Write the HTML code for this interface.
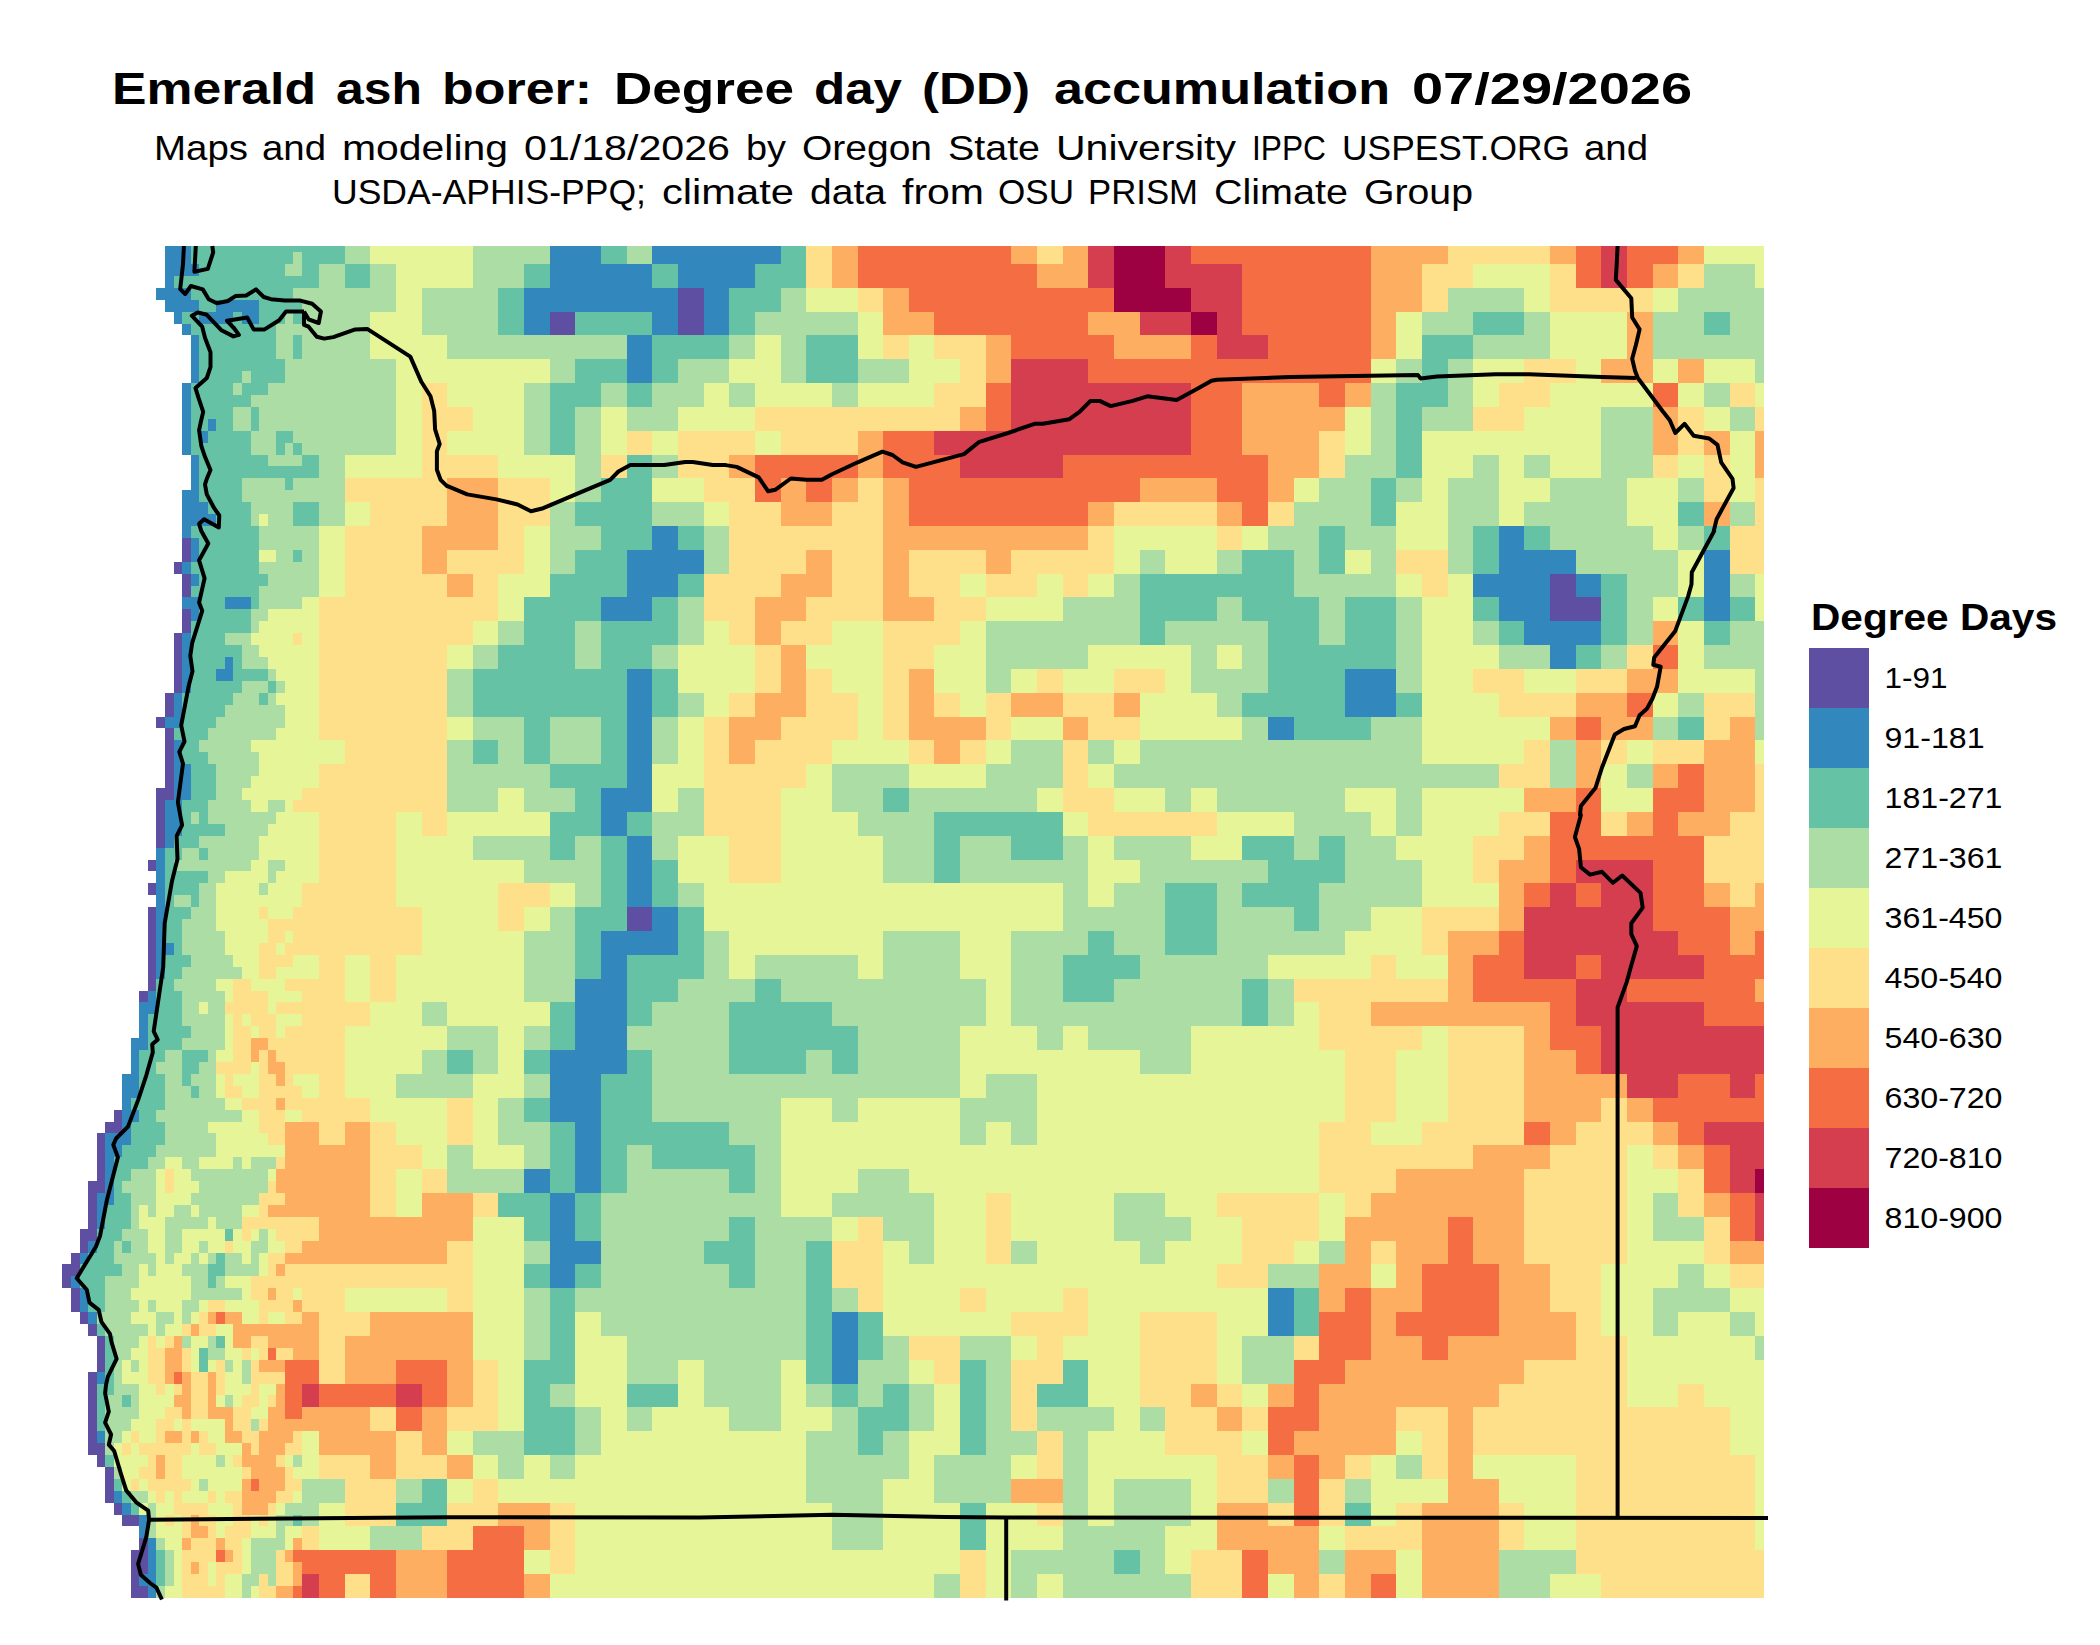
<!DOCTYPE html>
<html><head><meta charset="utf-8"><title>Emerald ash borer DD map</title>
<style>
html,body{margin:0;padding:0;background:#fff;}
body{width:2100px;height:1645px;overflow:hidden;font-family:"Liberation Sans",sans-serif;}
svg{display:block;position:absolute;left:0;top:0;}
text{font-family:"Liberation Sans",sans-serif;fill:#000;}
.b{font-weight:bold;}
</style></head><body>
<svg width="2100" height="1645" viewBox="0 0 2100 1645" xmlns="http://www.w3.org/2000/svg">
<rect width="2100" height="1645" fill="#fff"/>
<g shape-rendering="crispEdges">
<path fill="#3288BD" d="M165 246h26v18h-26zM550 246h51v18h-51zM550 1074h51v48h-51zM550 1241h51v23h-51zM652 246h129v18h-129zM165 264h34v12h-34zM165 300h34v12h-34zM550 264h102v24h-102zM678 264h77v24h-77zM165 276h9v12h-9zM165 836h9v12h-9zM156 288h35v12h-35zM524 288h154v24h-154zM704 288h25v47h-25zM216 300h43v12h-43zM174 312h8v12h-8zM174 693h8v24h-8zM174 740h8v24h-8zM199 312h34v12h-34zM242 312h17v12h-17zM524 312h26v23h-26zM524 1169h26v24h-26zM652 312h26v23h-26zM652 526h26v24h-26zM652 907h26v24h-26zM182 324h9v11h-9zM182 383h9v72h-9zM182 526h9v12h-9zM182 562h9v12h-9zM182 633h9v60h-9zM191 335h8v48h-8zM191 455h8v35h-8zM191 538h8v24h-8zM191 574h8v12h-8zM191 609h8v12h-8zM627 335h25v48h-25zM627 669h25v119h-25zM627 836h25v71h-25zM208 419h8v12h-8zM199 431h9v12h-9zM182 490h17v12h-17zM182 597h17v12h-17zM182 502h26v12h-26zM182 514h34v12h-34zM1499 526h25v24h-25zM627 550h77v24h-77zM1499 550h77v24h-77zM1704 550h26v71h-26zM627 574h51v23h-51zM1473 574h77v23h-77zM1576 574h25v23h-25zM225 597h26v12h-26zM601 597h51v24h-51zM601 788h51v24h-51zM1499 597h51v24h-51zM1524 621h77v24h-77zM1550 645h26v24h-26zM225 657h8v12h-8zM216 669h17v12h-17zM1345 669h51v48h-51zM165 717h17v11h-17zM165 800h17v36h-17zM1268 717h26v23h-26zM1268 1288h26v48h-26zM174 764h17v36h-17zM601 812h26v24h-26zM601 955h26v24h-26zM156 848h9v95h-9zM156 955h9v24h-9zM601 931h77v24h-77zM156 943h18v12h-18zM575 979h52v71h-52zM148 991h8v11h-8zM148 1538h8v36h-8zM148 1586h8v12h-8zM139 1002h17v12h-17zM139 1574h17v12h-17zM139 1014h9v24h-9zM139 1515h9v23h-9zM131 1038h17v12h-17zM131 1050h8v24h-8zM550 1050h77v24h-77zM122 1074h17v24h-17zM122 1110h17v12h-17zM122 1098h9v12h-9zM122 1122h9v11h-9zM122 1503h9v12h-9zM575 1122h26v71h-26zM105 1133h26v12h-26zM105 1145h17v12h-17zM105 1157h9v36h-9zM97 1193h17v12h-17zM550 1193h25v48h-25zM550 1264h25v24h-25zM97 1205h8v24h-8zM97 1372h8v12h-8zM97 1431h8v12h-8zM88 1241h9v12h-9zM88 1312h9v12h-9zM80 1253h8v11h-8zM80 1288h8v24h-8zM71 1276h9v12h-9zM832 1312h26v72h-26zM114 1491h8v12h-8z"/>
<path fill="#66C2A5" d="M191 246h154v6h-154zM601 246h26v18h-26zM601 717h26v47h-26zM601 836h26v71h-26zM601 1145h26v48h-26zM781 246h25v18h-25zM191 252h102v12h-102zM191 288h102v12h-102zM302 252h43v12h-43zM199 264h86v12h-86zM199 359h86v12h-86zM302 264h17v12h-17zM302 455h17v11h-17zM345 264h25v24h-25zM524 264h26v24h-26zM524 717h26v47h-26zM524 1050h26v24h-26zM524 1098h26v24h-26zM524 1217h26v24h-26zM524 1264h26v24h-26zM524 1384h26v23h-26zM652 264h26v24h-26zM652 359h26v24h-26zM652 597h26v24h-26zM652 669h26v48h-26zM652 860h26v47h-26zM755 264h51v24h-51zM174 276h145v12h-145zM498 288h26v47h-26zM729 288h52v24h-52zM199 300h17v12h-17zM259 300h43v12h-43zM182 312h17v12h-17zM182 740h17v12h-17zM182 1062h17v12h-17zM233 312h9v12h-9zM233 657h9v12h-9zM259 312h26v12h-26zM293 312h9v12h-9zM293 335h9v24h-9zM293 443h9v12h-9zM293 550h9v12h-9zM293 1515h9v11h-9zM575 312h77v23h-77zM575 502h77v24h-77zM729 312h26v23h-26zM729 1169h26v24h-26zM729 1217h26v24h-26zM729 1264h26v24h-26zM1473 312h51v23h-51zM1704 312h26v23h-26zM1704 526h26v24h-26zM1704 621h26v24h-26zM191 324h85v11h-85zM199 335h77v24h-77zM652 335h77v24h-77zM806 335h52v48h-52zM1422 335h51v24h-51zM575 359h52v24h-52zM575 550h52v24h-52zM575 907h52v24h-52zM1422 359h26v24h-26zM199 371h43v12h-43zM199 478h43v24h-43zM251 371h34v12h-34zM191 383h42v12h-42zM191 407h42v12h-42zM242 383h26v12h-26zM550 383h51v24h-51zM550 812h51v24h-51zM627 383h25v24h-25zM627 455h25v23h-25zM627 812h25v24h-25zM627 1002h25v24h-25zM627 1050h25v24h-25zM1396 383h52v24h-52zM191 395h60v12h-60zM191 443h60v12h-60zM191 621h60v12h-60zM251 407h8v24h-8zM251 597h8v12h-8zM550 407h25v48h-25zM550 836h25v24h-25zM550 1002h25v48h-25zM550 1122h25v71h-25zM550 1288h25v72h-25zM1396 407h26v71h-26zM1396 693h26v24h-26zM191 419h17v12h-17zM216 419h17v12h-17zM191 431h8v12h-8zM191 895h8v12h-8zM191 1086h8v12h-8zM208 431h43v12h-43zM208 502h43v12h-43zM276 431h17v12h-17zM276 443h9v12h-9zM199 455h69v11h-69zM199 574h69v12h-69zM199 466h120v12h-120zM285 478h8v12h-8zM601 478h51v24h-51zM601 526h51v24h-51zM601 645h51v24h-51zM601 1074h51v48h-51zM1371 478h25v48h-25zM293 502h26v24h-26zM1678 502h26v24h-26zM1678 597h26v24h-26zM1678 717h26v23h-26zM216 514h35v12h-35zM191 526h68v12h-68zM191 562h68v12h-68zM191 586h68v11h-68zM678 526h26v24h-26zM678 574h26v23h-26zM678 907h26v48h-26zM1319 526h26v48h-26zM1319 836h26v24h-26zM1473 526h26v48h-26zM1473 597h26v24h-26zM1524 526h26v24h-26zM199 538h60v24h-60zM1242 550h52v24h-52zM1242 836h52v24h-52zM550 574h77v23h-77zM550 764h77v24h-77zM1140 574h154v23h-154zM1601 574h26v71h-26zM199 597h26v12h-26zM524 597h77v24h-77zM1140 597h77v24h-77zM1242 597h77v24h-77zM1242 883h77v24h-77zM1345 597h51v48h-51zM1730 597h25v24h-25zM199 609h52v12h-52zM524 621h51v24h-51zM524 1360h51v24h-51zM524 1407h51v48h-51zM601 621h77v24h-77zM1140 621h25v24h-25zM1268 621h51v24h-51zM1499 621h25v24h-25zM191 633h34v12h-34zM191 657h34v12h-34zM191 645h51v12h-51zM191 681h51v12h-51zM498 645h77v24h-77zM1268 645h128v24h-128zM1576 645h25v24h-25zM191 669h25v12h-25zM191 764h25v36h-25zM233 669h35v12h-35zM473 669h154v48h-154zM1268 669h77v24h-77zM1268 860h77v23h-77zM268 681h8v12h-8zM182 693h51v12h-51zM259 693h9v12h-9zM1242 693h103v24h-103zM182 705h43v12h-43zM182 824h43v12h-43zM182 717h34v11h-34zM1294 717h77v23h-77zM174 728h34v12h-34zM473 740h25v24h-25zM182 752h26v12h-26zM182 800h26v12h-26zM182 1050h26v12h-26zM575 788h26v24h-26zM575 931h26v48h-26zM575 1193h26v48h-26zM575 1264h26v24h-26zM883 788h26v24h-26zM883 1384h26v23h-26zM182 812h9v12h-9zM182 1074h9v12h-9zM199 812h9v12h-9zM199 848h9v12h-9zM199 1348h9v24h-9zM934 812h129v24h-129zM174 836h25v12h-25zM934 836h26v47h-26zM1011 836h52v24h-52zM165 848h17v12h-17zM165 919h17v24h-17zM165 967h17v12h-17zM165 860h9v11h-9zM165 895h9v12h-9zM165 871h43v12h-43zM165 883h34v12h-34zM1165 883h52v72h-52zM165 907h26v12h-26zM165 955h26v12h-26zM1294 907h25v24h-25zM1294 1288h25v48h-25zM1088 931h26v24h-26zM174 943h8v12h-8zM627 955h77v24h-77zM1063 955h77v24h-77zM156 979h18v12h-18zM627 979h51v23h-51zM627 1384h51v23h-51zM755 979h26v23h-26zM1063 979h51v23h-51zM1242 979h26v47h-26zM156 991h26v23h-26zM729 1002h103v24h-103zM148 1014h34v12h-34zM148 1038h34v12h-34zM148 1026h43v12h-43zM729 1026h129v24h-129zM139 1050h26v12h-26zM139 1074h26v24h-26zM447 1050h26v24h-26zM729 1050h77v24h-77zM832 1050h26v24h-26zM832 1384h26v23h-26zM139 1062h17v12h-17zM139 1110h17v12h-17zM131 1098h34v12h-34zM131 1122h34v23h-34zM601 1122h128v23h-128zM122 1145h34v12h-34zM652 1145h103v24h-103zM114 1157h34v12h-34zM114 1169h17v12h-17zM114 1193h17v12h-17zM114 1181h8v12h-8zM114 1479h8v12h-8zM498 1193h52v24h-52zM105 1205h26v24h-26zM97 1229h25v12h-25zM225 1229h8v12h-8zM97 1241h17v12h-17zM97 1384h17v11h-17zM122 1241h9v12h-9zM122 1395h9v12h-9zM122 1491h9v12h-9zM704 1241h51v23h-51zM806 1241h26v143h-26zM88 1253h26v11h-26zM216 1253h9v11h-9zM216 1336h9v12h-9zM80 1264h42v12h-42zM208 1264h17v12h-17zM80 1276h25v12h-25zM208 1276h8v12h-8zM88 1288h17v24h-17zM858 1312h25v48h-25zM858 1431h25v24h-25zM97 1324h8v12h-8zM97 1395h8v36h-8zM105 1336h9v48h-9zM105 1455h9v12h-9zM960 1360h26v95h-26zM960 1503h26v47h-26zM1063 1360h25v24h-25zM1037 1384h51v23h-51zM858 1407h51v24h-51zM422 1479h25v24h-25zM131 1503h8v12h-8zM396 1503h51v23h-51zM1345 1503h26v23h-26zM156 1550h9v36h-9zM1114 1550h26v24h-26z"/>
<path fill="#ABDDA4" d="M345 246h25v18h-25zM473 246h77v18h-77zM473 836h77v24h-77zM627 246h25v18h-25zM627 1145h25v24h-25zM627 1407h25v24h-25zM293 252h9v12h-9zM293 1455h9v12h-9zM285 264h17v12h-17zM319 264h26v24h-26zM319 455h26v23h-26zM319 502h26v24h-26zM370 264h26v24h-26zM473 264h51v24h-51zM473 717h51v23h-51zM473 1431h51v24h-51zM1704 264h51v24h-51zM293 288h103v12h-103zM293 431h103v12h-103zM422 288h76v47h-76zM781 288h25v24h-25zM781 335h25v48h-25zM1448 288h76v24h-76zM1678 288h86v24h-86zM302 300h94v12h-94zM302 443h94v12h-94zM285 312h8v12h-8zM285 443h8v12h-8zM302 312h68v12h-68zM302 335h68v24h-68zM755 312h103v23h-103zM755 955h103v24h-103zM1422 312h51v23h-51zM1422 407h51v24h-51zM1524 312h26v23h-26zM1524 455h26v23h-26zM1653 312h51v23h-51zM1653 1217h51v24h-51zM1730 312h34v23h-34zM1730 621h34v24h-34zM276 324h94v11h-94zM276 335h17v24h-17zM276 550h17v12h-17zM276 1515h17v11h-17zM447 335h180v24h-180zM729 335h26v24h-26zM729 383h26v24h-26zM1473 335h77v24h-77zM1653 335h111v24h-111zM285 359h111v24h-111zM550 359h25v24h-25zM550 502h25v24h-25zM550 550h25v24h-25zM550 907h25v24h-25zM550 1384h25v23h-25zM550 1455h25v24h-25zM678 359h51v24h-51zM858 359h51v24h-51zM858 1169h51v24h-51zM858 1360h51v24h-51zM1396 359h26v24h-26zM1396 478h26v24h-26zM1396 597h26v96h-26zM1396 788h26v48h-26zM1396 1455h26v24h-26zM1448 359h25v48h-25zM1448 526h25v48h-25zM1755 359h9v24h-9zM1755 669h9v71h-9zM1755 1336h9v24h-9zM242 371h9v12h-9zM242 1360h9v24h-9zM242 1586h9v12h-9zM233 383h9v12h-9zM233 1157h9v12h-9zM268 383h128v12h-128zM524 383h26v72h-26zM524 1026h26v24h-26zM524 1074h26v24h-26zM524 1145h26v24h-26zM524 1241h26v23h-26zM524 1288h26v72h-26zM601 383h26v24h-26zM652 383h52v24h-52zM652 502h52v24h-52zM652 812h52v24h-52zM832 383h26v24h-26zM832 1098h26v24h-26zM832 1288h26v24h-26zM832 1407h26v24h-26zM1371 383h25v72h-25zM1371 550h25v24h-25zM1704 383h26v24h-26zM251 395h145v12h-145zM233 407h18v24h-18zM259 407h137v24h-137zM575 407h26v95h-26zM575 621h26v48h-26zM575 836h26v24h-26zM575 883h26v24h-26zM575 1407h26v48h-26zM627 407h51v24h-51zM627 1360h51v24h-51zM1601 407h52v71h-52zM1730 407h25v24h-25zM1730 502h25v24h-25zM1730 574h25v23h-25zM1730 1312h25v24h-25zM251 431h25v24h-25zM251 1157h25v12h-25zM251 1550h25v24h-25zM268 455h34v11h-34zM652 455h26v23h-26zM652 645h26v24h-26zM652 717h26v47h-26zM652 836h26v24h-26zM1345 455h51v23h-51zM1345 526h51v24h-51zM1345 836h51v24h-51zM1473 455h26v23h-26zM1473 621h26v24h-26zM242 478h43v12h-43zM293 478h52v12h-52zM1319 478h52v24h-52zM1319 907h52v24h-52zM1448 478h51v48h-51zM1550 478h77v24h-77zM1678 478h26v24h-26zM1678 526h26v24h-26zM1678 693h26v24h-26zM1678 1264h26v24h-26zM242 490h103v12h-103zM251 502h42v12h-42zM1294 502h77v24h-77zM1294 812h77v24h-77zM1524 502h103v24h-103zM251 514h8v12h-8zM251 621h8v12h-8zM251 1253h8v11h-8zM251 1419h8v12h-8zM268 514h25v12h-25zM259 526h60v24h-60zM259 562h60v12h-60zM259 586h60v11h-60zM550 526h51v24h-51zM550 717h51v47h-51zM704 526h25v48h-25zM704 931h25v48h-25zM1268 526h51v24h-51zM1268 1264h51v24h-51zM1550 526h103v24h-103zM302 550h17v12h-17zM302 1515h17v11h-17zM1140 550h25v24h-25zM1140 1241h25v23h-25zM1140 1407h25v24h-25zM1140 1550h25v24h-25zM1217 550h25v24h-25zM1217 597h25v24h-25zM1217 693h25v24h-25zM1217 883h25v24h-25zM1294 550h25v24h-25zM1294 836h25v24h-25zM1576 550h102v24h-102zM268 574h51v12h-51zM1114 574h26v23h-26zM1294 574h102v23h-102zM1627 574h51v23h-51zM259 597h43v12h-43zM678 597h26v48h-26zM678 693h26v24h-26zM678 788h26v24h-26zM678 883h26v24h-26zM1063 597h77v24h-77zM1319 597h26v48h-26zM1319 1241h26v23h-26zM1319 1550h26v24h-26zM1627 597h26v48h-26zM1627 764h26v24h-26zM251 609h17v12h-17zM251 1241h17v12h-17zM498 621h26v24h-26zM498 740h26v24h-26zM498 1098h26v24h-26zM498 1455h26v24h-26zM986 621h154v24h-154zM1165 621h103v24h-103zM225 633h26v12h-26zM242 645h17v12h-17zM242 1574h17v12h-17zM473 645h25v24h-25zM473 1050h25v24h-25zM986 645h102v24h-102zM1191 645h26v24h-26zM1242 645h26v24h-26zM1242 717h26v23h-26zM1499 645h51v24h-51zM1499 1574h51v24h-51zM1601 645h26v24h-26zM1704 645h60v24h-60zM242 657h26v12h-26zM242 681h26v12h-26zM268 669h8v12h-8zM268 693h8v12h-8zM268 871h8v12h-8zM268 1574h8v12h-8zM447 669h26v48h-26zM447 740h26v24h-26zM447 1145h26v24h-26zM986 669h25v24h-25zM986 1360h25v71h-25zM1191 669h77v24h-77zM276 681h9v12h-9zM276 1526h9v12h-9zM233 693h26v12h-26zM225 705h60v12h-60zM216 717h69v11h-69zM1371 717h51v23h-51zM1653 717h25v23h-25zM1653 1193h25v24h-25zM1653 1312h25v24h-25zM208 728h68v12h-68zM208 812h68v12h-68zM199 740h52v12h-52zM1011 740h52v24h-52zM1011 955h52v47h-52zM1088 740h26v24h-26zM1140 740h282v24h-282zM1550 740h26v48h-26zM208 752h51v12h-51zM208 848h51v12h-51zM216 764h43v12h-43zM447 764h103v24h-103zM832 764h77v24h-77zM986 764h77v24h-77zM1114 764h385v24h-385zM216 776h35v12h-35zM216 788h26v12h-26zM216 1217h26v12h-26zM447 788h51v24h-51zM447 1026h51v24h-51zM524 788h51v24h-51zM524 931h51v71h-51zM832 788h51v24h-51zM832 1503h51v47h-51zM909 788h128v24h-128zM1165 788h26v24h-26zM1217 788h128v24h-128zM1217 931h128v24h-128zM208 800h43v12h-43zM268 800h17v12h-17zM268 860h17v11h-17zM191 812h8v12h-8zM191 1253h8v11h-8zM858 812h76v24h-76zM225 824h43v12h-43zM199 836h60v12h-60zM883 836h51v47h-51zM883 1217h51v24h-51zM960 836h51v24h-51zM960 1336h51v24h-51zM1063 836h25v24h-25zM1063 883h25v24h-25zM1063 1431h25v95h-25zM1114 836h77v24h-77zM1114 1217h77v24h-77zM1114 1479h77v47h-77zM182 848h17v12h-17zM182 1002h17v12h-17zM182 1157h17v12h-17zM182 1300h17v12h-17zM174 860h77v11h-77zM524 860h77v23h-77zM960 860h128v23h-128zM1140 860h128v23h-128zM1140 955h128v24h-128zM1345 860h77v23h-77zM208 871h17v12h-17zM208 1002h17v12h-17zM208 1348h17v12h-17zM199 883h17v24h-17zM199 1062h17v12h-17zM199 1086h17v12h-17zM259 883h9v12h-9zM259 1229h9v12h-9zM1114 883h51v24h-51zM1114 931h51v24h-51zM1114 1193h51v24h-51zM1319 883h103v24h-103zM174 895h17v12h-17zM174 1205h17v12h-17zM191 907h25v12h-25zM191 1074h25v12h-25zM1063 907h102v24h-102zM1063 1526h102v24h-102zM1217 907h77v24h-77zM182 919h34v12h-34zM182 931h43v24h-43zM182 991h43v11h-43zM182 1014h43v12h-43zM182 1038h43v12h-43zM883 931h77v48h-77zM1011 931h77v24h-77zM191 955h42v12h-42zM182 967h60v12h-60zM174 979h42v12h-42zM678 979h77v23h-77zM781 979h205v23h-205zM1114 979h128v23h-128zM1268 979h26v47h-26zM1268 1479h26v24h-26zM422 1002h25v24h-25zM422 1050h25v24h-25zM652 1002h77v24h-77zM652 1050h77v24h-77zM832 1002h154v24h-154zM1011 1002h231v24h-231zM191 1026h34v12h-34zM627 1026h102v24h-102zM627 1169h102v24h-102zM858 1026h102v48h-102zM1037 1026h26v24h-26zM1088 1026h103v24h-103zM165 1050h17v12h-17zM165 1074h17v12h-17zM165 1229h17v24h-17zM208 1050h8v12h-8zM208 1253h8v11h-8zM208 1336h8v12h-8zM806 1050h26v24h-26zM806 1384h26v23h-26zM1140 1050h51v24h-51zM156 1062h26v12h-26zM396 1074h77v24h-77zM652 1074h308v24h-308zM986 1074h51v24h-51zM986 1431h51v24h-51zM165 1086h26v12h-26zM165 1098h60v12h-60zM652 1098h129v24h-129zM960 1098h77v24h-77zM156 1110h86v12h-86zM165 1122h43v11h-43zM165 1217h43v12h-43zM498 1122h52v23h-52zM729 1122h52v23h-52zM729 1407h52v24h-52zM960 1122h26v23h-26zM1011 1122h26v23h-26zM1011 1241h26v23h-26zM1011 1574h26v24h-26zM165 1133h51v12h-51zM156 1145h60v12h-60zM755 1145h26v48h-26zM148 1157h17v12h-17zM131 1169h25v12h-25zM131 1193h25v12h-25zM191 1169h77v12h-77zM447 1169h77v24h-77zM122 1181h34v12h-34zM199 1181h69v12h-69zM191 1193h68v12h-68zM601 1193h180v24h-180zM832 1193h102v24h-102zM131 1205h8v24h-8zM131 1360h8v12h-8zM131 1395h8v12h-8zM148 1205h8v12h-8zM148 1264h8v12h-8zM148 1300h8v12h-8zM148 1503h8v35h-8zM199 1205h43v12h-43zM601 1217h128v24h-128zM601 1264h128v24h-128zM755 1217h77v24h-77zM122 1229h26v12h-26zM114 1241h8v12h-8zM114 1360h8v24h-8zM114 1467h8v12h-8zM131 1241h17v12h-17zM131 1491h17v12h-17zM199 1241h9v12h-9zM199 1479h9v12h-9zM601 1241h103v23h-103zM755 1241h51v47h-51zM909 1241h25v23h-25zM909 1384h25v47h-25zM114 1253h42v11h-42zM165 1253h9v11h-9zM165 1550h9v36h-9zM225 1253h17v11h-17zM122 1264h17v12h-17zM182 1264h26v12h-26zM225 1264h34v12h-34zM105 1276h34v12h-34zM105 1300h34v12h-34zM105 1407h34v12h-34zM191 1276h17v12h-17zM216 1276h9v12h-9zM216 1455h9v12h-9zM105 1288h26v12h-26zM105 1419h26v12h-26zM191 1288h51v12h-51zM575 1288h231v24h-231zM1653 1288h77v24h-77zM97 1312h34v12h-34zM156 1312h18v12h-18zM182 1312h9v12h-9zM182 1336h9v12h-9zM601 1312h205v24h-205zM105 1324h43v12h-43zM156 1324h9v12h-9zM156 1538h9v12h-9zM156 1586h9v12h-9zM114 1336h25v12h-25zM114 1384h25v11h-25zM627 1336h179v24h-179zM883 1336h26v24h-26zM883 1431h26v24h-26zM1242 1336h52v48h-52zM114 1348h17v12h-17zM225 1360h8v12h-8zM225 1395h8v12h-8zM704 1360h77v47h-77zM858 1384h25v23h-25zM105 1395h17v12h-17zM105 1431h17v12h-17zM1037 1407h77v24h-77zM806 1431h52v24h-52zM105 1443h9v12h-9zM806 1455h103v24h-103zM934 1455h77v48h-77zM302 1479h43v24h-43zM396 1479h26v24h-26zM806 1479h77v24h-77zM1345 1479h26v24h-26zM285 1503h34v12h-34zM370 1526h52v24h-52zM251 1538h34v12h-34zM1011 1550h103v24h-103zM1499 1550h77v24h-77zM934 1574h26v24h-26zM1063 1574h128v24h-128z"/>
<path fill="#E6F598" d="M370 246h103v18h-103zM1704 246h60v18h-60zM1704 1384h60v23h-60zM396 264h77v24h-77zM396 836h77v24h-77zM1473 264h77v24h-77zM1755 264h9v24h-9zM1755 383h9v24h-9zM1755 574h9v47h-9zM1755 740h9v24h-9zM1755 1312h9v24h-9zM1755 1455h9v95h-9zM396 288h26v24h-26zM396 383h26v72h-26zM396 812h26v24h-26zM396 1169h26v48h-26zM806 288h52v24h-52zM1524 288h26v24h-26zM1653 288h25v24h-25zM1653 359h25v24h-25zM1653 526h25v24h-25zM1653 597h25v24h-25zM1653 693h25v24h-25zM370 312h52v23h-52zM370 1002h52v24h-52zM858 312h25v47h-25zM858 693h25v47h-25zM858 955h25v24h-25zM1396 312h26v47h-26zM1396 574h26v23h-26zM1396 1431h26v24h-26zM1396 1550h26v48h-26zM1550 312h77v47h-77zM370 335h77v24h-77zM370 1098h77v24h-77zM755 335h26v24h-26zM755 431h26v24h-26zM909 335h25v24h-25zM909 1360h25v24h-25zM909 1455h25v24h-25zM396 359h154v24h-154zM729 359h52v24h-52zM909 359h51v24h-51zM909 1431h51v24h-51zM1371 359h25v24h-25zM1371 812h25v24h-25zM1371 1264h25v24h-25zM1371 1455h25v24h-25zM1371 1503h25v23h-25zM1473 359h51v24h-51zM1576 359h25v24h-25zM1704 359h51v24h-51zM447 383h77v24h-77zM447 431h77v24h-77zM704 383h25v24h-25zM704 502h25v24h-25zM704 621h25v24h-25zM704 693h25v24h-25zM755 383h77v24h-77zM858 383h76v24h-76zM1473 383h26v24h-26zM1550 383h103v24h-103zM1678 383h26v24h-26zM1678 455h26v23h-26zM1678 550h26v47h-26zM1678 621h26v48h-26zM473 407h51v24h-51zM473 1074h51v24h-51zM473 1145h51v24h-51zM473 1217h51v143h-51zM601 407h26v48h-26zM601 1407h26v24h-26zM678 407h77v24h-77zM678 645h77v48h-77zM1345 407h26v48h-26zM1345 550h26v24h-26zM1524 407h77v24h-77zM1704 407h26v24h-26zM1704 1264h26v24h-26zM652 431h26v24h-26zM652 788h26v24h-26zM1422 431h179v24h-179zM1730 431h25v71h-25zM345 455h77v23h-77zM345 1050h77v24h-77zM498 455h77v23h-77zM1422 455h51v23h-51zM1422 597h51v48h-51zM1422 669h51v24h-51zM1422 860h51v23h-51zM1499 455h25v23h-25zM1499 502h25v24h-25zM1550 455h51v23h-51zM1550 1574h51v24h-51zM550 478h25v24h-25zM550 883h25v24h-25zM652 478h52v24h-52zM652 764h52v24h-52zM1294 478h25v24h-25zM1294 1002h25v24h-25zM1294 1241h25v23h-25zM1422 478h26v24h-26zM1422 1026h26v24h-26zM1499 478h51v24h-51zM1627 478h51v48h-51zM1627 1169h51v24h-51zM1627 1384h51v23h-51zM345 502h25v24h-25zM345 955h25v47h-25zM1396 502h52v48h-52zM1396 955h52v24h-52zM1396 1050h52v72h-52zM259 514h9v12h-9zM259 1253h9v23h-9zM259 1395h9v12h-9zM319 526h26v71h-26zM319 1503h26v23h-26zM524 526h26v48h-26zM524 907h26v24h-26zM524 1455h26v24h-26zM524 1550h26v24h-26zM1114 526h103v24h-103zM1242 526h26v24h-26zM1242 1384h26v23h-26zM1242 1431h26v24h-26zM259 550h17v12h-17zM259 1384h17v11h-17zM1114 550h26v24h-26zM1114 740h26v24h-26zM1114 1407h26v24h-26zM1165 550h52v24h-52zM1165 1193h52v24h-52zM1165 1526h52v24h-52zM498 574h52v23h-52zM960 574h26v23h-26zM960 621h26v24h-26zM960 693h26v24h-26zM960 1074h26v24h-26zM1037 574h26v23h-26zM1037 788h26v24h-26zM1037 1574h26v24h-26zM1088 574h26v23h-26zM1088 764h26v24h-26zM1088 836h26v24h-26zM1088 883h26v24h-26zM1088 1479h26v47h-26zM1448 574h25v23h-25zM302 597h17v12h-17zM302 633h17v12h-17zM302 1086h17v12h-17zM302 1431h17v36h-17zM498 597h26v24h-26zM498 788h26v24h-26zM498 1026h26v48h-26zM498 1360h26v71h-26zM986 597h77v24h-77zM986 1288h77v24h-77zM986 1526h77v24h-77zM268 609h51v12h-51zM268 657h51v12h-51zM268 824h51v12h-51zM259 621h60v12h-60zM259 645h60v12h-60zM259 764h60v12h-60zM259 836h60v24h-60zM473 621h25v24h-25zM473 1098h25v47h-25zM473 1455h25v24h-25zM832 621h51v24h-51zM832 669h51v24h-51zM251 633h42v12h-42zM447 645h26v24h-26zM447 717h26v23h-26zM447 1431h26v24h-26zM447 1479h26v24h-26zM806 645h77v24h-77zM934 645h52v48h-52zM934 1193h52v71h-52zM1088 645h103v24h-103zM1217 645h25v24h-25zM1217 1336h25v48h-25zM1422 645h77v24h-77zM1422 693h77v24h-77zM1422 812h77v24h-77zM1422 883h77v24h-77zM276 669h43v12h-43zM276 693h43v12h-43zM276 728h43v12h-43zM276 812h43v12h-43zM276 871h43v12h-43zM276 967h43v12h-43zM1011 669h26v24h-26zM1011 1336h26v24h-26zM1011 1455h26v24h-26zM1063 669h51v24h-51zM1165 669h26v24h-26zM1165 1550h26v24h-26zM1524 669h52v24h-52zM1524 1503h52v47h-52zM1678 669h77v24h-77zM285 681h34v12h-34zM285 705h34v23h-34zM285 860h34v11h-34zM1140 693h77v24h-77zM678 717h26v47h-26zM678 1360h26v47h-26zM1011 717h52v23h-52zM1140 717h102v23h-102zM1422 717h128v23h-128zM251 740h94v12h-94zM832 740h77v24h-77zM986 740h25v24h-25zM986 979h25v47h-25zM986 1122h25v23h-25zM986 1550h25v48h-25zM1422 740h102v24h-102zM1422 788h102v24h-102zM1627 740h26v24h-26zM1627 1145h26v24h-26zM1627 1193h26v48h-26zM259 752h86v12h-86zM806 764h26v24h-26zM909 764h77v24h-77zM1601 764h26v24h-26zM251 776h68v12h-68zM242 788h60v12h-60zM781 788h51v24h-51zM781 1098h51v24h-51zM781 1193h51v24h-51zM781 1407h51v24h-51zM1114 788h51v24h-51zM1191 788h26v24h-26zM1191 1479h26v47h-26zM1345 788h51v24h-51zM1601 788h52v24h-52zM1601 1288h52v48h-52zM251 800h17v12h-17zM251 860h17v11h-17zM251 1407h17v12h-17zM285 800h8v12h-8zM285 931h8v12h-8zM285 1455h8v12h-8zM285 1538h8v12h-8zM447 812h103v24h-103zM447 1002h103v24h-103zM781 812h77v24h-77zM781 1169h77v24h-77zM1063 812h25v24h-25zM1063 1026h25v24h-25zM1217 812h77v24h-77zM678 836h51v47h-51zM781 836h102v47h-102zM1191 836h51v24h-51zM1191 1217h51v24h-51zM1396 836h77v24h-77zM396 860h128v23h-128zM396 955h128v47h-128zM1088 860h52v23h-52zM1088 1312h52v24h-52zM1088 1360h52v47h-52zM225 871h43v12h-43zM225 931h43v12h-43zM216 883h43v12h-43zM216 907h43v12h-43zM268 883h34v12h-34zM268 991h34v11h-34zM396 883h102v24h-102zM704 883h359v48h-359zM216 895h86v12h-86zM268 907h25v12h-25zM422 907h76v24h-76zM1371 907h51v24h-51zM1371 1122h51v23h-51zM216 919h52v12h-52zM216 1133h52v12h-52zM422 931h102v24h-102zM729 931h154v24h-154zM960 931h51v48h-51zM1345 931h77v24h-77zM225 943h34v12h-34zM225 1300h34v12h-34zM276 943h9v12h-9zM276 1026h9v12h-9zM276 1503h9v12h-9zM233 955h26v12h-26zM233 1074h26v12h-26zM293 955h26v12h-26zM293 1074h26v12h-26zM293 1467h26v12h-26zM729 955h26v24h-26zM1268 955h103v24h-103zM242 967h17v12h-17zM242 1086h17v12h-17zM242 1110h17v12h-17zM242 1205h17v12h-17zM242 1312h17v12h-17zM216 979h17v12h-17zM216 1050h17v12h-17zM216 1324h17v12h-17zM216 1515h17v11h-17zM251 979h34v12h-34zM225 991h8v11h-8zM225 1014h8v36h-8zM225 1336h8v12h-8zM225 1455h8v12h-8zM199 1002h9v12h-9zM199 1253h9v11h-9zM199 1300h9v12h-9zM268 1002h8v12h-8zM268 1169h8v12h-8zM268 1229h8v12h-8zM268 1515h8v11h-8zM242 1014h9v12h-9zM242 1157h9v12h-9zM242 1253h9v11h-9zM242 1288h9v12h-9zM242 1538h9v36h-9zM276 1014h26v12h-26zM251 1026h8v12h-8zM251 1062h8v12h-8zM251 1229h8v12h-8zM251 1348h8v12h-8zM251 1515h8v11h-8zM251 1586h8v12h-8zM345 1026h102v24h-102zM345 1288h102v24h-102zM960 1026h77v24h-77zM1191 1026h128v24h-128zM960 1050h180v24h-180zM1191 1050h154v24h-154zM216 1074h9v24h-9zM216 1395h9v12h-9zM216 1491h9v12h-9zM216 1526h9v12h-9zM345 1074h51v24h-51zM1037 1074h308v48h-308zM225 1098h17v12h-17zM225 1348h17v12h-17zM225 1372h17v12h-17zM225 1574h17v24h-17zM858 1098h102v24h-102zM285 1110h17v12h-17zM285 1526h17v12h-17zM208 1122h51v11h-51zM396 1122h51v23h-51zM781 1122h179v23h-179zM1037 1122h282v23h-282zM216 1145h69v12h-69zM422 1145h25v24h-25zM781 1145h538v24h-538zM165 1157h17v12h-17zM165 1324h17v12h-17zM165 1538h17v12h-17zM165 1586h17v12h-17zM199 1157h34v12h-34zM156 1169h9v24h-9zM156 1253h9v11h-9zM156 1336h9v12h-9zM156 1515h9v11h-9zM174 1169h17v12h-17zM174 1253h17v11h-17zM909 1169h410v24h-410zM174 1181h25v12h-25zM156 1193h35v12h-35zM1011 1193h103v48h-103zM1319 1193h26v48h-26zM1319 1526h26v24h-26zM139 1205h9v12h-9zM139 1264h9v12h-9zM139 1300h9v12h-9zM139 1336h9v12h-9zM139 1360h9v12h-9zM139 1479h9v12h-9zM139 1503h9v12h-9zM156 1205h18v12h-18zM156 1503h18v12h-18zM191 1205h8v12h-8zM191 1312h8v12h-8zM191 1348h8v24h-8zM191 1443h8v12h-8zM191 1479h8v12h-8zM139 1217h26v12h-26zM139 1407h26v12h-26zM208 1217h8v12h-8zM208 1360h8v12h-8zM208 1562h8v24h-8zM832 1217h26v24h-26zM148 1229h17v24h-17zM182 1229h43v12h-43zM233 1229h9v12h-9zM233 1360h9v12h-9zM233 1395h9v12h-9zM182 1241h17v12h-17zM208 1241h17v12h-17zM208 1431h17v12h-17zM233 1241h18v12h-18zM268 1241h17v12h-17zM268 1312h17v12h-17zM883 1241h26v23h-26zM1037 1241h103v23h-103zM1165 1241h77v23h-77zM1627 1241h77v23h-77zM156 1264h26v12h-26zM156 1300h26v12h-26zM156 1526h26v12h-26zM883 1264h334v24h-334zM1601 1264h77v24h-77zM139 1276h52v12h-52zM225 1276h26v12h-26zM225 1384h26v11h-26zM131 1288h60v12h-60zM293 1288h9v12h-9zM293 1491h9v12h-9zM883 1288h77v24h-77zM883 1503h77v47h-77zM1088 1288h180v24h-180zM1730 1288h34v24h-34zM1730 1407h34v48h-34zM131 1312h25v12h-25zM131 1419h25v12h-25zM174 1312h8v12h-8zM174 1419h8v12h-8zM174 1515h8v11h-8zM174 1550h8v36h-8zM575 1312h26v24h-26zM883 1312h128v24h-128zM1217 1312h51v24h-51zM1678 1312h52v24h-52zM148 1324h8v12h-8zM148 1491h8v12h-8zM191 1336h17v12h-17zM575 1336h52v71h-52zM1063 1336h77v24h-77zM1627 1336h128v24h-128zM131 1348h17v12h-17zM122 1360h9v12h-9zM122 1431h9v12h-9zM122 1479h9v12h-9zM781 1360h25v47h-25zM1627 1360h137v24h-137zM122 1372h26v12h-26zM139 1384h17v11h-17zM139 1431h17v12h-17zM165 1384h9v11h-9zM165 1491h9v12h-9zM934 1384h26v47h-26zM139 1395h35v12h-35zM652 1407h77v24h-77zM191 1419h34v12h-34zM601 1431h205v24h-205zM1088 1431h77v24h-77zM114 1443h8v12h-8zM131 1443h8v12h-8zM216 1443h26v12h-26zM114 1455h34v12h-34zM182 1455h34v12h-34zM575 1455h231v24h-231zM1088 1455h129v24h-129zM1473 1455h103v24h-103zM122 1467h17v12h-17zM182 1467h60v12h-60zM208 1479h34v12h-34zM498 1479h308v24h-308zM883 1479h51v24h-51zM1371 1479h77v24h-77zM1499 1479h77v24h-77zM182 1491h26v12h-26zM208 1503h25v12h-25zM575 1503h257v47h-257zM986 1503h51v23h-51zM251 1526h25v12h-25zM319 1526h51v24h-51zM575 1550h385v24h-385zM550 1574h384v24h-384zM1268 1574h26v24h-26z"/>
<path fill="#FEE08B" d="M806 246h26v42h-26zM806 669h26v24h-26zM1037 246h26v18h-26zM1037 669h26v24h-26zM1037 1336h26v24h-26zM1037 1431h26v48h-26zM1037 1503h26v23h-26zM1448 246h102v18h-102zM1422 264h51v24h-51zM1550 264h26v24h-26zM1678 264h26v24h-26zM1678 407h26v48h-26zM1678 1169h26v48h-26zM1678 1384h26v23h-26zM858 288h25v24h-25zM858 478h25v24h-25zM858 1217h25v24h-25zM858 1288h25v24h-25zM1422 288h26v24h-26zM1422 574h26v23h-26zM1422 931h26v24h-26zM1422 1431h26v48h-26zM1550 288h103v24h-103zM883 335h26v24h-26zM883 669h26v71h-26zM934 335h52v24h-52zM934 383h52v24h-52zM934 597h52v24h-52zM960 359h26v24h-26zM960 740h26v24h-26zM960 1288h26v24h-26zM960 1550h26v48h-26zM1524 359h52v24h-52zM422 383h25v24h-25zM422 431h25v24h-25zM422 812h25v24h-25zM422 1169h25v24h-25zM1499 383h51v24h-51zM1499 764h51v24h-51zM1499 812h51v24h-51zM1730 383h25v24h-25zM1730 883h25v24h-25zM422 407h51v24h-51zM422 1526h51v24h-51zM755 407h205v24h-205zM1473 407h51v24h-51zM1473 669h51v24h-51zM1473 836h51v24h-51zM1755 407h9v24h-9zM1755 478h9v48h-9zM1755 764h9v48h-9zM627 431h25v24h-25zM678 431h77v24h-77zM781 431h77v24h-77zM781 717h77v23h-77zM1319 431h26v47h-26zM1319 1479h26v47h-26zM1319 1574h26v24h-26zM422 455h76v23h-76zM601 455h26v23h-26zM678 455h51v23h-51zM1653 455h25v23h-25zM1653 1145h25v24h-25zM1704 455h26v47h-26zM1704 717h26v23h-26zM1704 1217h26v47h-26zM345 478h102v24h-102zM345 574h102v23h-102zM345 740h102v24h-102zM498 478h52v48h-52zM498 883h52v24h-52zM704 478h51v24h-51zM704 597h51v24h-51zM370 502h77v24h-77zM729 502h52v24h-52zM729 836h52v47h-52zM832 502h51v24h-51zM832 550h51v47h-51zM832 1241h51v47h-51zM1114 502h103v24h-103zM1268 502h26v24h-26zM1268 1503h26v23h-26zM345 526h77v48h-77zM498 526h26v24h-26zM498 907h26v24h-26zM729 526h154v24h-154zM1088 526h26v24h-26zM1217 526h25v24h-25zM1217 1384h25v23h-25zM1730 526h34v48h-34zM1730 812h34v24h-34zM1730 1264h34v24h-34zM447 550h77v24h-77zM729 550h77v24h-77zM909 550h77v24h-77zM1011 550h103v24h-103zM1396 550h52v24h-52zM1396 1407h52v24h-52zM473 574h25v23h-25zM473 1193h25v24h-25zM473 1360h25v47h-25zM473 1479h25v24h-25zM704 574h77v23h-77zM704 788h77v48h-77zM909 574h51v23h-51zM909 1336h51v24h-51zM986 574h51v23h-51zM1063 574h25v23h-25zM1063 740h25v48h-25zM1063 1288h25v24h-25zM319 597h179v24h-179zM806 597h77v24h-77zM319 621h154v24h-154zM729 621h26v24h-26zM729 693h26v24h-26zM781 621h51v24h-51zM883 621h77v24h-77zM293 633h9v12h-9zM293 1431h9v12h-9zM319 645h128v95h-128zM319 764h128v24h-128zM755 645h26v48h-26zM883 645h51v24h-51zM1627 645h26v24h-26zM1114 669h51v24h-51zM1576 669h51v24h-51zM1576 1336h51v24h-51zM806 693h52v24h-52zM934 693h26v24h-26zM934 1360h26v24h-26zM986 693h25v47h-25zM986 1193h25v71h-25zM1063 693h51v24h-51zM1063 788h51v24h-51zM1499 693h77v24h-77zM1704 693h51v24h-51zM704 717h25v47h-25zM1088 717h52v23h-52zM755 740h77v24h-77zM909 740h25v24h-25zM1524 740h26v24h-26zM1601 740h26v24h-26zM1601 812h26v24h-26zM1601 1098h26v24h-26zM1653 740h51v24h-51zM704 764h102v24h-102zM302 788h145v12h-145zM293 800h154v12h-154zM319 812h77v71h-77zM1088 812h129v24h-129zM1704 836h60v47h-60zM1473 860h26v23h-26zM302 883h94v24h-94zM259 907h9v12h-9zM259 1050h9v24h-9zM259 1205h9v12h-9zM259 1312h9v12h-9zM259 1348h9v12h-9zM259 1419h9v12h-9zM259 1515h9v11h-9zM259 1574h9v12h-9zM293 907h129v12h-129zM293 931h129v12h-129zM1422 907h77v24h-77zM268 919h154v12h-154zM268 931h17v12h-17zM268 1133h17v12h-17zM268 1253h17v11h-17zM259 943h17v12h-17zM259 967h17v12h-17zM259 1026h17v12h-17zM259 1074h17v12h-17zM259 1586h17v12h-17zM285 943h137v12h-137zM259 955h34v12h-34zM259 1300h34v12h-34zM319 955h26v24h-26zM319 1074h26v24h-26zM319 1122h26v23h-26zM319 1336h26v48h-26zM370 955h26v47h-26zM370 1122h26v23h-26zM370 1169h26v48h-26zM370 1407h26v24h-26zM1371 955h25v24h-25zM1371 1241h25v23h-25zM233 979h18v12h-18zM233 1026h18v36h-18zM233 1407h18v24h-18zM233 1515h18v11h-18zM285 979h60v12h-60zM285 1026h60v12h-60zM285 1062h60v12h-60zM1294 979h154v23h-154zM233 991h35v11h-35zM302 991h43v11h-43zM302 1288h43v24h-43zM225 1002h43v12h-43zM276 1002h94v12h-94zM1319 1002h52v24h-52zM1319 1122h52v23h-52zM233 1014h9v12h-9zM233 1455h9v12h-9zM233 1503h9v12h-9zM233 1550h9v12h-9zM251 1014h25v12h-25zM302 1014h68v12h-68zM302 1110h68v12h-68zM1319 1026h103v24h-103zM1448 1026h76v96h-76zM268 1038h77v12h-77zM276 1050h69v12h-69zM1345 1050h51v72h-51zM216 1062h35v12h-35zM225 1074h8v12h-8zM225 1241h8v12h-8zM285 1074h8v12h-8zM285 1467h8v12h-8zM225 1086h17v12h-17zM225 1491h17v12h-17zM225 1538h17v12h-17zM259 1086h43v12h-43zM242 1098h34v12h-34zM285 1098h85v12h-85zM447 1098h26v47h-26zM447 1241h26v23h-26zM447 1288h26v24h-26zM259 1110h26v23h-26zM259 1193h26v12h-26zM1422 1122h102v23h-102zM1576 1122h77v23h-77zM370 1145h52v24h-52zM1319 1145h154v24h-154zM1550 1145h77v24h-77zM276 1157h9v12h-9zM276 1455h9v12h-9zM276 1550h9v12h-9zM165 1169h9v24h-9zM165 1336h9v12h-9zM165 1515h9v11h-9zM1319 1169h77v24h-77zM1524 1169h103v95h-103zM1524 1360h103v24h-103zM268 1181h8v12h-8zM268 1264h8v12h-8zM268 1395h8v12h-8zM268 1503h8v12h-8zM1217 1193h102v24h-102zM1345 1193h26v24h-26zM1345 1455h26v24h-26zM242 1217h77v12h-77zM1242 1217h77v24h-77zM242 1229h9v12h-9zM242 1348h9v12h-9zM242 1467h9v12h-9zM276 1229h43v12h-43zM285 1241h17v12h-17zM285 1312h17v12h-17zM285 1443h17v12h-17zM285 1479h17v12h-17zM1242 1241h52v23h-52zM285 1264h188v12h-188zM1217 1264h51v24h-51zM1217 1455h51v48h-51zM1550 1264h51v48h-51zM251 1276h222v12h-222zM251 1288h17v12h-17zM251 1336h17v12h-17zM276 1288h17v12h-17zM276 1348h17v12h-17zM276 1491h17v12h-17zM276 1562h17v24h-17zM208 1300h17v12h-17zM199 1312h9v12h-9zM199 1431h9v12h-9zM199 1562h9v12h-9zM319 1312h51v24h-51zM319 1455h51v24h-51zM1011 1312h77v24h-77zM1140 1312h77v72h-77zM1576 1312h25v24h-25zM182 1324h9v12h-9zM182 1348h9v24h-9zM182 1419h9v24h-9zM182 1515h9v23h-9zM182 1562h9v12h-9zM199 1324h17v12h-17zM199 1443h17v12h-17zM199 1515h17v11h-17zM148 1336h8v12h-8zM148 1455h8v12h-8zM1294 1336h25v24h-25zM148 1348h17v36h-17zM216 1360h9v35h-9zM216 1574h9v12h-9zM251 1360h8v12h-8zM251 1384h8v11h-8zM251 1443h8v12h-8zM1011 1360h52v24h-52zM191 1372h17v47h-17zM251 1372h34v12h-34zM156 1384h9v11h-9zM156 1431h9v12h-9zM156 1491h9v12h-9zM174 1384h8v11h-8zM174 1491h8v12h-8zM1011 1384h26v47h-26zM1140 1384h51v23h-51zM1499 1384h128v23h-128zM242 1395h17v12h-17zM242 1431h17v12h-17zM165 1407h17v12h-17zM165 1455h17v24h-17zM447 1407h51v24h-51zM447 1503h51v23h-51zM1165 1407h52v24h-52zM1242 1407h26v24h-26zM1473 1407h257v48h-257zM156 1419h18v12h-18zM131 1431h8v12h-8zM131 1479h8v12h-8zM396 1431h26v24h-26zM1165 1431h77v24h-77zM122 1443h9v12h-9zM139 1443h52v12h-52zM396 1455h51v24h-51zM1576 1455h179v95h-179zM139 1467h17v12h-17zM148 1479h43v12h-43zM345 1479h51v47h-51zM208 1491h8v12h-8zM208 1526h8v12h-8zM174 1503h34v12h-34zM550 1503h25v71h-25zM1396 1503h26v23h-26zM1499 1503h25v47h-25zM225 1526h26v12h-26zM302 1526h17v24h-17zM1345 1526h77v24h-77zM191 1538h25v12h-25zM182 1550h34v12h-34zM1191 1550h51v48h-51zM1576 1550h188v24h-188zM216 1562h26v12h-26zM182 1574h26v12h-26zM345 1574h25v24h-25zM1601 1574h163v24h-163zM182 1586h43v12h-43z"/>
<path fill="#FDAE61" d="M832 246h26v42h-26zM832 478h26v24h-26zM1011 246h26v18h-26zM1063 246h25v18h-25zM1063 717h25v23h-25zM1371 246h77v18h-77zM1550 246h26v18h-26zM1550 717h26v23h-26zM1550 1122h26v23h-26zM1678 246h26v18h-26zM1678 359h26v24h-26zM1678 1145h26v24h-26zM1037 264h51v24h-51zM1371 264h51v48h-51zM1371 1288h51v24h-51zM1371 1336h51v24h-51zM1653 264h25v24h-25zM1653 407h25v48h-25zM1653 621h25v24h-25zM1653 764h25v24h-25zM1653 1122h25v23h-25zM883 288h26v24h-26zM883 478h26v48h-26zM883 550h26v47h-26zM883 312h51v23h-51zM883 597h51v24h-51zM1088 312h52v23h-52zM1371 312h25v47h-25zM1371 1312h25v24h-25zM1627 312h26v47h-26zM1627 812h26v24h-26zM1627 1098h26v24h-26zM986 335h25v48h-25zM986 550h25v24h-25zM1114 335h77v24h-77zM1601 359h52v24h-52zM1601 717h52v23h-52zM1242 383h77v24h-77zM1242 431h77v24h-77zM1345 383h26v24h-26zM1345 1241h26v23h-26zM1345 1574h26v24h-26zM960 407h26v24h-26zM1242 407h103v24h-103zM858 431h25v47h-25zM1704 431h26v24h-26zM1704 502h26v24h-26zM1704 883h26v24h-26zM1704 1193h26v24h-26zM1755 431h9v47h-9zM1755 883h9v24h-9zM1755 979h9v23h-9zM729 455h26v23h-26zM729 740h26v24h-26zM1268 455h51v23h-51zM1268 1550h51v24h-51zM447 478h51v48h-51zM781 478h25v24h-25zM781 645h25v48h-25zM1140 478h77v24h-77zM1268 478h26v24h-26zM1268 1384h26v23h-26zM1268 1455h26v24h-26zM781 502h51v24h-51zM781 574h51v23h-51zM1088 502h26v24h-26zM1217 502h25v24h-25zM1217 1407h25v24h-25zM422 526h76v24h-76zM883 526h205v24h-205zM422 550h25v24h-25zM422 1407h25v48h-25zM806 550h26v24h-26zM447 574h26v23h-26zM447 1360h26v47h-26zM447 1455h26v24h-26zM755 597h51v24h-51zM755 693h51v24h-51zM755 621h26v24h-26zM909 669h25v48h-25zM1627 669h51v24h-51zM1011 693h52v24h-52zM1011 1479h52v24h-52zM1114 693h26v24h-26zM1576 693h51v24h-51zM729 717h52v23h-52zM909 717h77v23h-77zM1730 717h25v23h-25zM1730 931h25v24h-25zM934 740h26v24h-26zM1576 740h25v48h-25zM1704 740h51v72h-51zM1524 788h52v24h-52zM1524 1050h52v24h-52zM1678 812h52v24h-52zM1524 836h26v24h-26zM1524 1026h26v24h-26zM1499 860h51v23h-51zM1499 1264h51v48h-51zM1499 883h25v48h-25zM1730 907h34v24h-34zM1730 1241h34v23h-34zM1448 931h51v24h-51zM1448 1479h51v24h-51zM1448 955h25v47h-25zM1448 1407h25v72h-25zM1371 1002h179v24h-179zM251 1038h17v12h-17zM251 1050h8v12h-8zM268 1050h8v12h-8zM268 1288h8v12h-8zM268 1062h17v12h-17zM268 1407h17v12h-17zM276 1074h9v12h-9zM276 1098h9v12h-9zM276 1264h9v12h-9zM276 1384h9v23h-9zM1524 1074h103v24h-103zM1524 1098h77v24h-77zM285 1122h34v23h-34zM345 1122h25v23h-25zM285 1145h85v24h-85zM285 1193h85v12h-85zM1473 1145h77v24h-77zM276 1169h94v24h-94zM1396 1169h128v24h-128zM422 1193h51v24h-51zM1371 1193h153v24h-153zM268 1205h102v12h-102zM268 1419h102v12h-102zM319 1217h154v24h-154zM1345 1217h103v24h-103zM1473 1217h51v47h-51zM302 1241h145v12h-145zM1396 1241h52v23h-52zM285 1253h162v11h-162zM1319 1264h52v24h-52zM1396 1264h26v24h-26zM1319 1288h26v24h-26zM1319 1455h26v24h-26zM293 1300h9v12h-9zM293 1538h9v12h-9zM293 1562h9v24h-9zM208 1312h8v12h-8zM208 1372h8v35h-8zM225 1312h17v12h-17zM225 1431h17v12h-17zM302 1312h17v12h-17zM370 1312h103v24h-103zM1499 1312h77v24h-77zM191 1324h8v12h-8zM191 1431h8v12h-8zM191 1515h8v11h-8zM191 1562h8v12h-8zM233 1324h86v12h-86zM174 1336h8v12h-8zM233 1336h18v12h-18zM268 1336h51v12h-51zM345 1336h128v24h-128zM1448 1336h128v24h-128zM165 1348h17v24h-17zM165 1431h17v12h-17zM293 1348h26v12h-26zM259 1360h26v12h-26zM259 1443h26v12h-26zM259 1479h26v12h-26zM345 1360h51v24h-51zM1345 1360h179v24h-179zM165 1372h9v12h-9zM182 1372h9v23h-9zM182 1407h9v12h-9zM182 1538h9v12h-9zM1191 1384h26v23h-26zM1319 1384h180v23h-180zM174 1395h17v12h-17zM208 1407h25v12h-25zM302 1407h68v12h-68zM1319 1407h77v24h-77zM225 1419h8v12h-8zM225 1550h8v12h-8zM259 1431h34v12h-34zM319 1431h77v24h-77zM1294 1431h102v24h-102zM242 1443h9v12h-9zM242 1479h9v12h-9zM156 1455h9v24h-9zM242 1455h34v12h-34zM242 1491h34v12h-34zM370 1455h26v24h-26zM251 1467h34v12h-34zM242 1503h26v12h-26zM498 1503h52v23h-52zM1217 1503h51v23h-51zM1422 1503h77v95h-77zM191 1526h17v12h-17zM524 1526h26v24h-26zM524 1574h26v24h-26zM1217 1526h102v24h-102zM216 1538h9v12h-9zM285 1550h8v12h-8zM396 1550h51v48h-51zM1345 1550h51v24h-51zM1294 1574h25v24h-25zM276 1586h17v12h-17z"/>
<path fill="#F46D43" d="M858 246h153v18h-153zM1191 246h180v18h-180zM1576 246h25v42h-25zM1576 717h25v23h-25zM1576 788h25v24h-25zM1576 883h25v24h-25zM1576 955h25v24h-25zM1576 1050h25v24h-25zM1627 246h51v18h-51zM858 264h179v24h-179zM1242 264h129v71h-129zM1627 264h26v24h-26zM1627 693h26v24h-26zM909 288h205v24h-205zM934 312h154v23h-154zM1011 335h103v24h-103zM1191 335h26v24h-26zM1268 335h103v24h-103zM1088 359h283v24h-283zM986 383h25v48h-25zM1191 383h51v72h-51zM1319 383h26v24h-26zM1653 383h25v24h-25zM1653 645h25v24h-25zM1653 812h25v24h-25zM883 431h51v24h-51zM755 455h103v23h-103zM883 455h77v23h-77zM1063 455h205v23h-205zM755 478h26v24h-26zM806 478h26v24h-26zM909 478h231v24h-231zM1217 478h51v24h-51zM909 502h179v24h-179zM1242 502h26v24h-26zM1242 1550h26v48h-26zM1678 764h26v24h-26zM1678 1122h26v23h-26zM1653 788h51v24h-51zM1653 860h51v47h-51zM1550 812h51v24h-51zM1550 1026h51v24h-51zM1550 836h154v24h-154zM1550 860h26v23h-26zM1550 1002h26v24h-26zM1524 883h26v24h-26zM1524 1122h26v23h-26zM1653 907h77v24h-77zM1499 931h25v24h-25zM1678 931h52v24h-52zM1678 1074h52v24h-52zM1755 931h9v24h-9zM1755 1074h9v24h-9zM1473 955h51v24h-51zM1704 955h60v24h-60zM1704 1002h60v24h-60zM1473 979h103v23h-103zM1627 979h128v23h-128zM1653 1098h111v24h-111zM1704 1145h26v48h-26zM1730 1193h25v48h-25zM1448 1217h25v47h-25zM1422 1264h77v48h-77zM1345 1288h26v24h-26zM216 1312h9v12h-9zM216 1550h9v12h-9zM1319 1312h52v48h-52zM1396 1312h103v24h-103zM1422 1336h26v24h-26zM268 1348h8v12h-8zM285 1360h34v24h-34zM396 1360h51v24h-51zM1294 1360h51v24h-51zM174 1372h8v12h-8zM285 1384h17v35h-17zM319 1384h77v23h-77zM422 1384h25v23h-25zM1294 1384h25v23h-25zM1294 1455h25v71h-25zM396 1407h26v24h-26zM1268 1407h51v24h-51zM1268 1431h26v24h-26zM251 1479h8v12h-8zM473 1526h51v24h-51zM293 1550h103v12h-103zM447 1550h77v48h-77zM302 1562h94v12h-94zM319 1574h26v24h-26zM370 1574h26v24h-26zM1371 1574h25v24h-25zM293 1586h9v12h-9z"/>
<path fill="#D53E4F" d="M1088 246h26v42h-26zM1165 246h26v18h-26zM1601 246h26v42h-26zM1165 264h77v24h-77zM1191 288h51v24h-51zM1140 312h51v23h-51zM1217 312h25v23h-25zM1217 335h51v24h-51zM1011 359h77v24h-77zM1011 383h180v48h-180zM934 431h257v24h-257zM960 455h103v23h-103zM1576 860h77v23h-77zM1550 883h26v24h-26zM1601 883h52v24h-52zM1524 907h129v24h-129zM1524 931h154v24h-154zM1524 955h52v24h-52zM1601 955h103v24h-103zM1576 979h51v23h-51zM1576 1002h128v24h-128zM1601 1026h163v48h-163zM1627 1074h51v24h-51zM1730 1074h25v24h-25zM1730 1169h25v24h-25zM1704 1122h60v23h-60zM1730 1145h34v24h-34zM1755 1193h9v48h-9zM302 1384h17v23h-17zM302 1574h17v24h-17zM396 1384h26v23h-26z"/>
<path fill="#9E0142" d="M1114 246h51v42h-51zM1114 288h77v24h-77zM1191 312h26v23h-26zM1755 1169h9v24h-9z"/>
<path fill="#5E4FA2" d="M678 288h26v47h-26zM550 312h25v23h-25zM182 538h9v24h-9zM182 574h9v23h-9zM182 609h9v24h-9zM174 562h8v12h-8zM174 633h8v60h-8zM1550 574h26v23h-26zM1550 597h51v24h-51zM165 693h9v24h-9zM165 728h9v60h-9zM156 717h9v11h-9zM156 800h9v48h-9zM156 788h18v12h-18zM148 860h8v11h-8zM148 883h8v12h-8zM148 907h8v84h-8zM627 907h25v24h-25zM139 991h9v11h-9zM139 1538h9v12h-9zM114 1110h8v12h-8zM114 1503h8v12h-8zM105 1122h17v11h-17zM97 1133h8v48h-8zM97 1336h8v36h-8zM97 1455h8v12h-8zM88 1181h17v12h-17zM88 1443h17v12h-17zM88 1193h9v36h-9zM88 1324h9v12h-9zM88 1372h9v71h-9zM80 1229h17v12h-17zM80 1241h8v12h-8zM80 1312h8v12h-8zM71 1253h9v11h-9zM71 1288h9v24h-9zM62 1264h18v12h-18zM62 1276h9v12h-9zM105 1467h9v36h-9zM122 1515h17v11h-17zM131 1550h17v24h-17zM131 1586h17v12h-17zM131 1574h8v12h-8z"/>

</g>
<g fill="none" stroke="#000" stroke-width="4" stroke-linejoin="round" stroke-linecap="butt">
<polyline points="183.9,246.0 183.0,264.3 180.2,289.1 185.2,294.0 190.9,286.0 202.8,289.4 208.7,299.2 216.9,303.2 227.9,301.0 235.8,295.9 246.2,295.5 256.0,289.4 263.7,297.0 271.0,299.2 284.8,300.6 300.3,300.6 312.2,303.8 320.9,311.6 318.7,323.0 308.6,319.3 304.0,311.6"/>
<polyline points="195.8,246.0 194.4,271.7 207.8,268.9 213.2,252.4 212.3,246.0"/>
<polyline points="304.0,311.6 304.0,324.8 308.6,326.7 316.8,336.8 324.2,338.6 333.3,337.1 355.3,329.4 367.2,328.9 410.3,356.6 421.3,381.7 430.5,396.3 434.2,411.0 435.1,429.3 439.7,444.0 436.9,451.3 436.9,469.7 440.6,479.8 447.0,486.2 447.0,485.8 467.2,494.4 496.5,499.4 517.6,504.5 531.0,511.3 543.2,508.2 586.3,489.8 610.2,479.8 618.4,471.5 630.3,465.1 664.2,465.1 685.3,462.0 692.7,462.0 712.8,465.1 725.7,465.1 736.7,466.9 758.7,477.4 768.2,491.3 775.2,489.8 790.8,478.5 806.3,479.8 821.9,479.8 832.0,474.2 857.7,462.3 882.4,451.7 892.5,455.0 902.6,462.3 916.0,466.9 964.0,454.1 978.7,442.2 1008.0,433.0 1034.6,423.8 1042.8,423.8 1069.4,419.2 1079.5,411.9 1090.5,400.9 1099.7,400.9 1110.7,406.1 1132.7,400.9 1147.3,396.3 1176.7,400.0 1198.7,388.1 1211.5,380.8 1217.0,379.8 1290.3,377.1 1417.8,374.9 1420.5,378.4 1437.0,376.5 1495.7,374.3 1528.7,374.3 1602.0,377.1 1635.9,378.0"/>
<polyline points="1617.6,246.0 1616.7,264.3 1615.8,279.9 1631.3,298.2 1632.2,317.5 1639.6,329.4 1635.9,345.0 1632.2,358.8 1635.0,370.7 1637.8,378.0 1651.5,396.3 1662.5,411.0 1669.8,420.2 1675.3,433.0 1684.5,423.8 1693.7,435.8 1709.2,438.5 1717.5,444.9 1721.2,462.3 1732.5,478.8 1733.6,488.0 1716.6,519.2 1713.8,530.9 1714.2,531.0 1691.8,572.2 1691.5,584.2 1688.2,596.1 1675.3,630.9 1654.2,657.5 1653.3,664.8 1660.7,666.7 1657.0,686.8 1652.4,698.8 1646.9,708.8 1639.6,715.2 1635.0,726.2 1624.0,729.0 1614.8,734.5 1602.0,767.5 1595.6,787.7 1580.9,806.0 1580.0,815.0 1580.9,815.0 1574.9,837.0 1579.1,848.9 1580.9,867.2 1590.1,874.6 1602.0,871.8 1613.0,882.8 1622.2,875.5 1640.5,892.9 1642.7,907.6 1631.3,923.2 1631.3,934.2 1636.8,946.1 1631.3,965.3 1626.8,981.8 1617.6,1007.5 1617.6,1518.0"/>
<polyline points="304.0,311.6 286.0,311.6 279.2,320.2 264.6,329.4 253.6,329.4 247.2,317.5 227.0,320.8 234.3,328.5 238.9,334.9 233.4,336.4 221.5,330.3 206.8,314.8 197.7,312.4 191.8,315.7 202.2,326.7 205.0,337.7 210.5,352.3 210.5,367.0 206.8,378.0 195.5,388.1 198.6,398.2 203.2,411.9 200.8,422.0 199.1,430.2 201.3,445.8 205.0,456.8 210.5,470.0 206.8,478.8 205.0,484.3 206.8,494.4 214.2,508.2 219.3,515.5 218.8,527.4 204.1,519.2 199.1,523.8 201.3,530.9 201.3,531.0 208.3,543.5 199.1,560.3 204.6,578.3 199.1,602.5 202.2,610.8 192.2,642.8 190.3,655.7 192.5,671.2 188.5,686.8 181.2,725.3 184.5,741.5 179.3,751.9 183.0,763.5 177.9,802.3 180.2,815.0 182.1,825.1 176.6,836.1 177.5,859.0 172.0,881.0 164.7,923.2 163.2,967.2 153.7,1031.3 157.7,1039.6 152.2,1044.2 152.8,1052.4 146.3,1075.3 138.1,1100.1 128.0,1126.6 116.1,1138.5 113.3,1144.9 117.9,1157.2 106.9,1199.9 100.1,1235.7 95.9,1246.7 76.7,1278.2 86.8,1289.8 89.5,1302.6 98.7,1309.9 101.4,1321.8 110.0,1333.8 111.5,1342.0 116.6,1358.9 107.8,1376.8 106.0,1385.1 105.1,1393.2 108.8,1411.6 105.1,1422.6 111.1,1434.5 108.8,1444.6 114.2,1451.0 120.7,1473.0 126.2,1490.4 136.2,1502.3 148.2,1510.6 149.1,1519.8 146.3,1537.2 138.1,1563.8 140.8,1574.8 150.0,1583.0 156.4,1587.6 161.9,1599.5"/>
<polyline points="149.5,1519.7 447.0,1517.2 700.0,1517.4 832.0,1514.8 945.0,1517.0 1006.0,1517.5 1400.0,1517.8 1768.0,1517.9"/>
<polyline points="1006.2,1517.0 1006.2,1600.5"/>

</g>
<text class="b" x="112.0" y="104" font-size="44" textLength="204.0" lengthAdjust="spacingAndGlyphs">Emerald</text>
<text class="b" x="336.0" y="104" font-size="44" textLength="86.0" lengthAdjust="spacingAndGlyphs">ash</text>
<text class="b" x="442.0" y="104" font-size="44" textLength="150.0" lengthAdjust="spacingAndGlyphs">borer:</text>
<text class="b" x="614.0" y="104" font-size="44" textLength="180.0" lengthAdjust="spacingAndGlyphs">Degree</text>
<text class="b" x="814.0" y="104" font-size="44" textLength="88.0" lengthAdjust="spacingAndGlyphs">day</text>
<text class="b" x="922.0" y="104" font-size="44" textLength="108.0" lengthAdjust="spacingAndGlyphs">(DD)</text>
<text class="b" x="1054.0" y="104" font-size="44" textLength="336.0" lengthAdjust="spacingAndGlyphs">accumulation</text>
<text class="b" x="1412.0" y="104" font-size="44" textLength="280.0" lengthAdjust="spacingAndGlyphs">07/29/2026</text>
<text x="154.0" y="160" font-size="34.5" textLength="94.0" lengthAdjust="spacingAndGlyphs">Maps</text>
<text x="262.0" y="160" font-size="34.5" textLength="64.0" lengthAdjust="spacingAndGlyphs">and</text>
<text x="342.0" y="160" font-size="34.5" textLength="166.0" lengthAdjust="spacingAndGlyphs">modeling</text>
<text x="524.0" y="160" font-size="34.5" textLength="206.0" lengthAdjust="spacingAndGlyphs">01/18/2026</text>
<text x="746.0" y="160" font-size="34.5" textLength="40.0" lengthAdjust="spacingAndGlyphs">by</text>
<text x="802.0" y="160" font-size="34.5" textLength="130.0" lengthAdjust="spacingAndGlyphs">Oregon</text>
<text x="948.0" y="160" font-size="34.5" textLength="92.0" lengthAdjust="spacingAndGlyphs">State</text>
<text x="1056.0" y="160" font-size="34.5" textLength="180.0" lengthAdjust="spacingAndGlyphs">University</text>
<text x="1252.0" y="160" font-size="34.5" textLength="74.0" lengthAdjust="spacingAndGlyphs">IPPC</text>
<text x="1342.0" y="160" font-size="34.5" textLength="228.0" lengthAdjust="spacingAndGlyphs">USPEST.ORG</text>
<text x="1584.0" y="160" font-size="34.5" textLength="64.0" lengthAdjust="spacingAndGlyphs">and</text>
<text x="332.0" y="204" font-size="34.5" textLength="314.0" lengthAdjust="spacingAndGlyphs">USDA-APHIS-PPQ;</text>
<text x="662.0" y="204" font-size="34.5" textLength="132.0" lengthAdjust="spacingAndGlyphs">climate</text>
<text x="810.0" y="204" font-size="34.5" textLength="76.0" lengthAdjust="spacingAndGlyphs">data</text>
<text x="902.0" y="204" font-size="34.5" textLength="82.0" lengthAdjust="spacingAndGlyphs">from</text>
<text x="998.0" y="204" font-size="34.5" textLength="76.0" lengthAdjust="spacingAndGlyphs">OSU</text>
<text x="1088.0" y="204" font-size="34.5" textLength="110.0" lengthAdjust="spacingAndGlyphs">PRISM</text>
<text x="1214.0" y="204" font-size="34.5" textLength="134.0" lengthAdjust="spacingAndGlyphs">Climate</text>
<text x="1364.0" y="204" font-size="34.5" textLength="109.0" lengthAdjust="spacingAndGlyphs">Group</text>
<text class="b" x="1811" y="630.3" font-size="36.5" textLength="246" lengthAdjust="spacingAndGlyphs">Degree Days</text>
<g shape-rendering="crispEdges">
<rect x="1809" y="648" width="60" height="60" fill="#5E4FA2"/>
<rect x="1809" y="708" width="60" height="60" fill="#3288BD"/>
<rect x="1809" y="768" width="60" height="60" fill="#66C2A5"/>
<rect x="1809" y="828" width="60" height="60" fill="#ABDDA4"/>
<rect x="1809" y="888" width="60" height="60" fill="#E6F598"/>
<rect x="1809" y="948" width="60" height="60" fill="#FEE08B"/>
<rect x="1809" y="1008" width="60" height="60" fill="#FDAE61"/>
<rect x="1809" y="1068" width="60" height="60" fill="#F46D43"/>
<rect x="1809" y="1128" width="60" height="60" fill="#D53E4F"/>
<rect x="1809" y="1188" width="60" height="60" fill="#9E0142"/>
</g>
<g font-size="29">
<text x="1884.5" y="688" textLength="63" lengthAdjust="spacingAndGlyphs">1-91</text>
<text x="1884.5" y="748" textLength="100" lengthAdjust="spacingAndGlyphs">91-181</text>
<text x="1884.5" y="808" textLength="118" lengthAdjust="spacingAndGlyphs">181-271</text>
<text x="1884.5" y="868" textLength="118" lengthAdjust="spacingAndGlyphs">271-361</text>
<text x="1884.5" y="928" textLength="118" lengthAdjust="spacingAndGlyphs">361-450</text>
<text x="1884.5" y="988" textLength="118" lengthAdjust="spacingAndGlyphs">450-540</text>
<text x="1884.5" y="1048" textLength="118" lengthAdjust="spacingAndGlyphs">540-630</text>
<text x="1884.5" y="1108" textLength="118" lengthAdjust="spacingAndGlyphs">630-720</text>
<text x="1884.5" y="1168" textLength="118" lengthAdjust="spacingAndGlyphs">720-810</text>
<text x="1884.5" y="1228" textLength="118" lengthAdjust="spacingAndGlyphs">810-900</text>
</g>
</svg>
</body></html>
